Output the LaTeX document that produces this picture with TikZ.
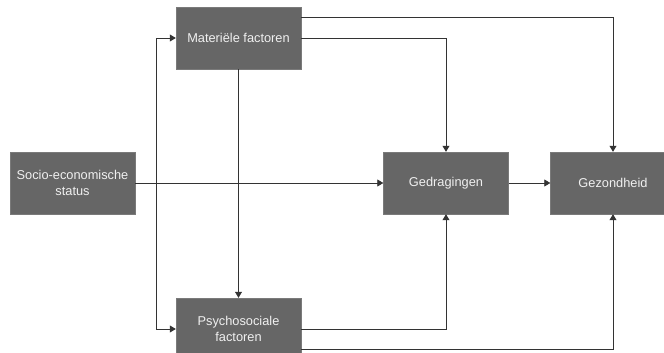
\documentclass[tikz,border=0pt]{standalone}
\usepackage{fontspec}
\setmainfont{Liberation Sans}
\usetikzlibrary{arrows.meta}
\definecolor{boxfill}{HTML}{666666}
\definecolor{boxline}{HTML}{7A7A7A}
\definecolor{boxtext}{HTML}{F0F0F0}
\definecolor{edge}{HTML}{333333}
\begin{document}
\begin{tikzpicture}[x=1pt,y=-1pt,
  blok/.style={draw=boxline,fill=boxfill,text=boxtext,minimum width=125pt,minimum height=62pt,inner sep=2pt,align=center,font=\fontsize{12.8pt}{16pt}\selectfont},
  pijl/.style={draw=edge,line width=0.8pt,-{Triangle[length=6pt,width=7pt]}}]
\useasboundingbox (0,0) rectangle (664,353);
\node[blok] (mat) at (238.5,38) {Materiële factoren};
\node[blok] (ses) at (72.5,183) {Socio-economische\\status};
\node[blok] (psy) at (238.5,329) {Psychosociale\\factoren};
\node[blok] (ged) at (446,183) {Gedragingen};
\node[blok] (gez) at (613,183) {Gezondheid};
\draw[pijl] ([yshift=21pt]mat.east) -| (gez.north);
\draw[pijl] (mat.east) -| (ged.north);
\draw[pijl] (mat.south) -- (psy.north);
\draw[pijl] (ses.east) -- (ged.west);
\draw[pijl] (ses.east) -- ++(21,0) |- (mat.west);
\draw[pijl] (ses.east) -- ++(21,0) |- (psy.west);
\draw[pijl] (psy.east) -| (ged.south);
\draw[pijl] ([yshift=-20pt]psy.east) -| (gez.south);
\draw[pijl] (ged.east) -- (gez.west);
\end{tikzpicture}
\end{document}
